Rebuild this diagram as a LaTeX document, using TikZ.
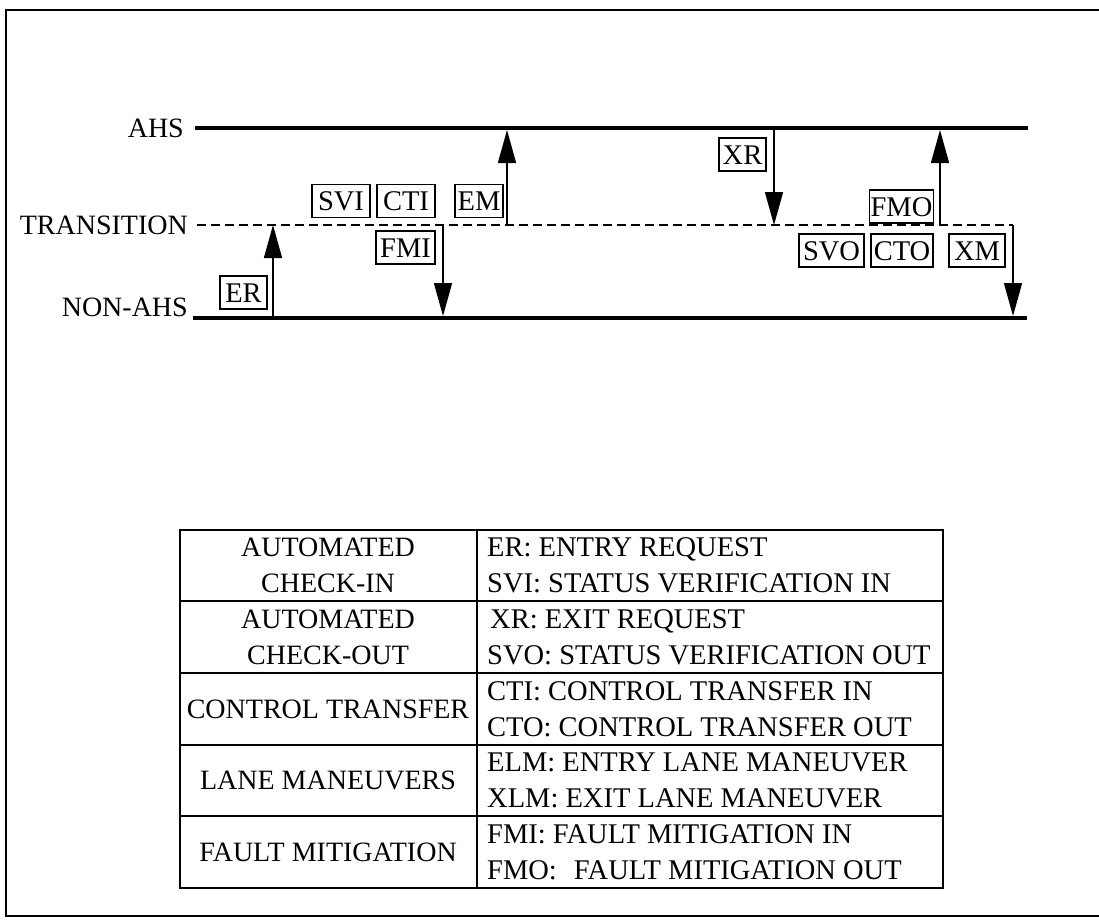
\documentclass[tikz,border=0pt]{standalone}
\usepackage{fontspec}
\setmainfont{Liberation Serif}
\usetikzlibrary{arrows.meta}
\begin{document}
\begin{tikzpicture}[x=1pt,y=-1pt,
  frame/.style={line width=2.4pt},
  level/.style={line width=4pt},
  trans/.style={line width=1.6pt, dash pattern=on 9pt off 5pt},
  arr/.style={line width=1.5pt, -{Triangle[length=33pt,width=18pt]}},
  lab/.style={font=\fontsize{28}{34}\selectfont, inner sep=0pt, anchor=base east},
  abox/.style={draw, line width=1.6pt, font=\fontsize{28.5}{32}\selectfont,
    inner xsep=1pt, inner ysep=0pt, minimum height=33pt,
    text height=19pt, text depth=0pt},
  tline/.style={line width=1.8pt},
  tcat/.style={font=\fontsize{28}{36}\selectfont, align=center, inner sep=0pt},
  tdesc/.style={font=\fontsize{28.5}{36}\selectfont, align=left, anchor=west, inner sep=0pt}
]
\useasboundingbox (0,0) rectangle (1099,922);

% outer frame (open on the right)
\draw[frame] (1099,10) -- (6,10) -- (6,916) -- (1099,916);

% level labels
\node[lab] (ahs) at (184,137) {AHS};
\node[lab] (tra) at (188,234) {TRANSITION};
\node[lab] (nonahs) at (188,316) {NON-AHS};

% level lines
\coordinate (ahsL) at (195,128);  \coordinate (ahsR) at (1028,128);
\coordinate (trL)  at (197,225);  \coordinate (trR)  at (1013,225);
\coordinate (naL)  at (193,318);  \coordinate (naR)  at (1027,318);
\draw[level] (ahsL) -- (ahsR);
\draw[trans] (trL) -- (trR);
\draw[level] (naL) -- (naR);

% arrow end points
\coordinate (erA) at (273,318); \coordinate (erB) at (273,225);
\coordinate (emA) at (507,225); \coordinate (emB) at (507,130);
\coordinate (fmiA) at (443,225); \coordinate (fmiB) at (443,316);
\coordinate (xrA) at (774,130); \coordinate (xrB) at (774,225);
\coordinate (fmoA) at (940,225); \coordinate (fmoB) at (940,130);
\coordinate (xmA) at (1013,225); \coordinate (xmB) at (1013,316);

\draw[arr] (erA) -- (erB);
\draw[arr] (emA) -- (emB);
\draw[arr] (fmiA) -- (fmiB);
\draw[arr] (xrA) -- (xrB);
\draw[arr] (fmoA) -- (fmoB);
\draw[arr] (xmA) -- (xmB);

% boxed labels
\node[abox, minimum width=47pt] (er)  at (243.5,292.5) {ER};
\node[abox, minimum width=58pt] (svi) at (341,201) {SVI};
\node[abox, minimum width=58pt] (cti) at (406,201) {CTI};
\node[abox, minimum width=48pt] (em)  at (479,201) {EM};
\node[abox, minimum width=59pt] (fmi) at (405.5,247.5) {FMI};
\node[abox, minimum width=47pt] (xr)  at (742.5,154.5) {XR};
\node[abox, minimum width=63pt] (fmo) at (901.5,206.5) {FMO};
\node[abox, minimum width=65pt] (svo) at (831.5,250.5) {SVO};
\node[abox, minimum width=62pt] (cto) at (902,250.5) {CTO};
\node[abox, minimum width=56pt] (xm)  at (977,250.5) {XM};

% table
\draw[tline] (180,530) rectangle (943,888);
\draw[tline] (477,530) -- (477,888);
\foreach \yy in {601,673,745,816} \draw[tline] (180,\yy) -- (943,\yy);

\node[tcat] (c1) at (328,565.5) {AUTOMATED\\CHECK-IN};
\node[tcat] (c2) at (328,637) {AUTOMATED\\CHECK-OUT};
\node[tcat] (c3) at (328,709) {CONTROL TRANSFER};
\node[tcat] (c4) at (328,780.5) {LANE MANEUVERS};
\node[tcat] (c5) at (328,852) {FAULT MITIGATION};

\node[tdesc] (d1) at (487,565.5) {ER: ENTRY REQUEST\\SVI: STATUS VERIFICATION IN};
\node[tdesc] (d2) at (487,637) {\hspace{3pt}XR: EXIT REQUEST\\SVO: STATUS VERIFICATION OUT};
\node[tdesc] (d3) at (487,709) {CTI: CONTROL TRANSFER IN\\CTO: CONTROL TRANSFER OUT};
\node[tdesc] (d4) at (487,780.5) {ELM: ENTRY LANE MANEUVER\\XLM: EXIT LANE MANEUVER};
\node[tdesc] (d5) at (487,852) {FMI: FAULT MITIGATION IN\\FMO:\hspace{0.6em}FAULT MITIGATION OUT};
\end{tikzpicture}
\end{document}
